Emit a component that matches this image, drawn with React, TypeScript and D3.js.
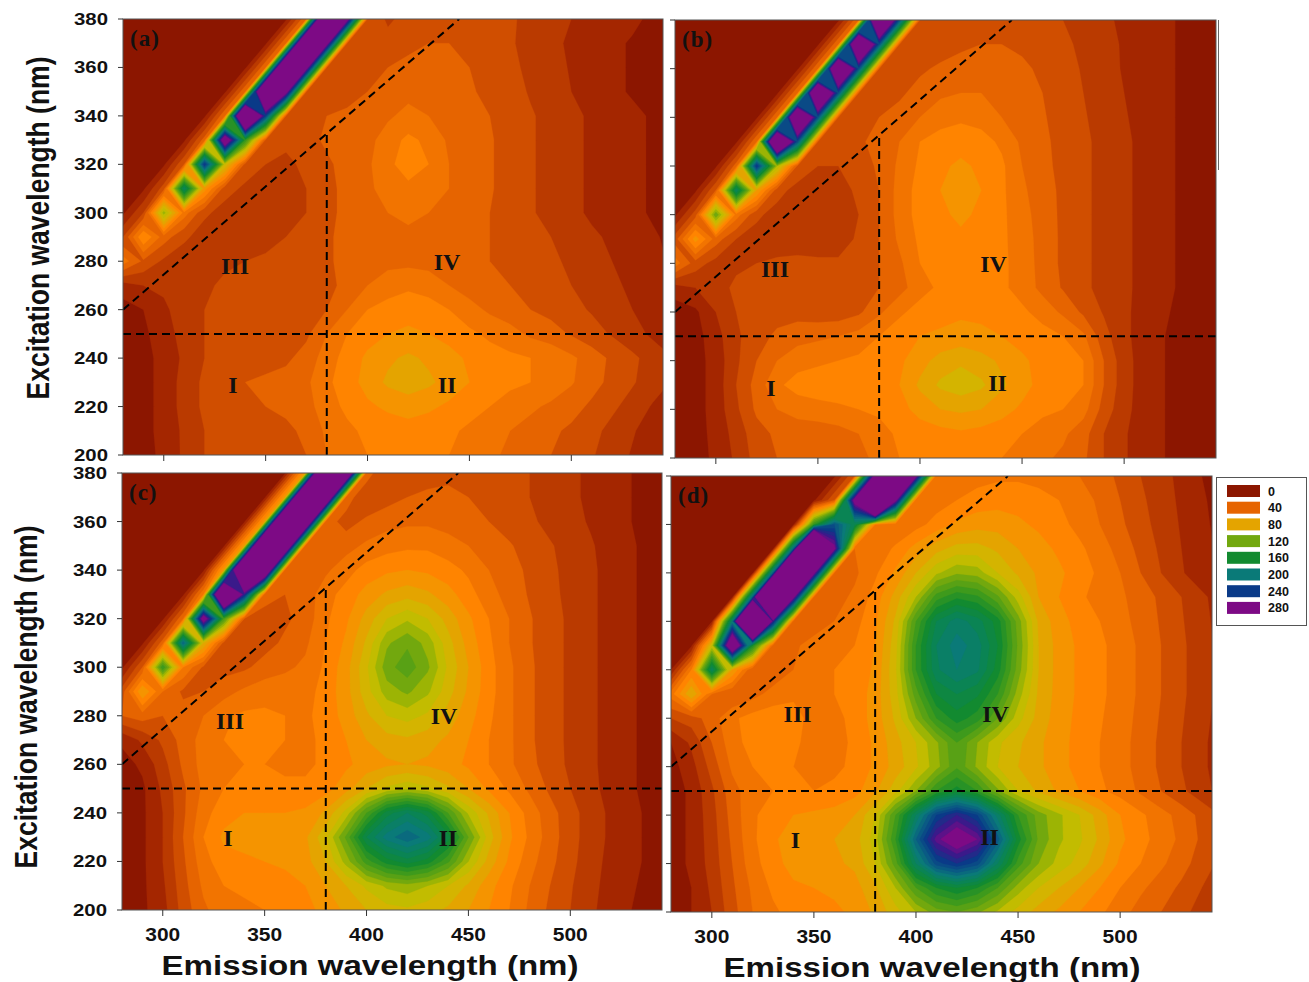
import { useMemo } from 'react';
import * as d3 from 'd3';

// grid axes of the excitation-emission matrices (nm)
const emission = [280, 290, 300, 310, 320, 330, 340, 350, 360, 370, 380, 390, 400, 410, 420, 430, 440, 450, 460, 470, 480, 490, 500, 510, 520, 530, 540, 550];
const excitation = [380, 370, 360, 350, 340, 330, 320, 310, 300, 290, 280, 270, 260, 250, 240, 230, 220, 210, 200];

// intensities, one string per excitation row (top row = 380 nm)
const panelA = [
  '5 5 5 5 5 5 5 5 8 50 450 300 40 28 34 36 36 35 33 31 28 24 20 17 15 12 8 5',
  '5 5 5 5 5 5 5 8 50 450 300 40 30 34 38 40 40 38 35 31 27 23 18 15 12 9 7 5',
  '5 5 5 5 5 5 8 50 450 300 40 32 36 40 42 44 42 40 37 32 28 24 19 15 12 9 7 5',
  '5 5 5 5 5 8 50 450 300 40 32 36 40 44 46 46 44 41 38 34 29 25 20 16 12 9 7 5',
  '5 5 5 5 8 50 450 240 40 34 40 42 44 48 54 50 46 43 40 36 31 27 23 18 15 12 9 7',
  '5 5 5 8 45 330 150 38 32 36 42 44 46 56 62 58 48 44 41 36 31 27 23 18 15 12 9 7',
  '5 5 8 40 250 100 36 30 28 32 38 44 48 58 64 60 50 45 41 36 31 27 23 18 15 12 9 7',
  '5 8 35 190 75 34 28 26 25 30 36 44 48 54 58 55 50 45 41 36 31 27 23 18 15 12 9 7',
  '8 30 115 55 32 26 24 24 26 30 36 44 48 50 52 50 48 45 40 36 31 27 23 18 15 12 9 7',
  '30 70 45 32 25 24 24 26 30 32 38 44 47 48 48 48 46 44 40 37 33 30 26 22 18 14 11 8',
  '55 38 28 24 24 28 30 32 33 33 38 44 46 47 47 46 44 42 40 37 35 32 28 24 20 16 12 9',
  '15 20 22 24 28 32 34 34 32 30 36 44 50 55 58 56 50 45 44 40 37 34 30 26 22 18 13 10',
  '6 10 18 25 30 34 35 34 32 32 40 50 60 64 66 64 60 54 48 44 40 37 33 29 25 20 15 11',
  '5 8 15 24 30 34 34 34 34 38 50 60 66 70 72 70 66 62 58 54 48 44 39 34 29 24 18 13',
  '5 7 13 22 30 34 36 36 38 44 55 64 72 78 82 78 74 68 64 62 60 58 52 45 38 32 26 20',
  '5 7 13 24 32 38 40 42 44 48 58 65 74 82 86 82 76 70 64 62 60 57 51 44 37 31 25 19',
  '5 7 13 24 32 36 38 40 42 46 56 62 68 72 74 72 68 64 60 56 52 48 44 38 32 26 19 14',
  '5 7 13 22 30 34 36 36 38 42 52 58 62 64 66 64 62 58 54 50 46 42 38 33 27 21 15 10',
  '5 7 12 22 30 33 35 35 36 40 50 56 60 62 64 62 60 56 52 48 44 40 36 31 25 19 14 10',
];

const panelB = [
  '5 5 5 5 5 5 5 5 8 50 420 230 40 30 34 36 36 35 33 30 26 22 18 15 12 8 6 5',
  '5 5 5 5 5 5 5 8 50 420 230 40 30 34 38 40 40 38 35 32 28 23 19 15 12 8 6 5',
  '5 5 5 5 5 5 8 50 420 230 40 32 38 42 44 46 44 42 38 34 29 24 19 15 12 8 6 5',
  '5 5 5 5 5 8 50 420 230 40 34 38 44 48 50 50 48 44 40 35 30 25 20 15 12 8 6 5',
  '5 5 5 5 8 50 420 230 40 34 40 44 50 56 58 56 50 46 41 36 31 26 21 16 12 8 6 5',
  '5 5 5 8 50 420 230 40 34 38 44 50 60 64 66 64 58 48 42 37 32 27 22 17 12 8 6 5',
  '5 5 8 45 250 110 38 30 30 34 42 52 62 68 72 68 62 50 43 37 32 27 22 17 12 8 6 5',
  '5 8 40 190 80 34 26 24 26 32 40 54 64 70 74 70 62 52 44 38 32 27 22 17 12 8 6 5',
  '8 35 130 55 32 26 25 24 24 30 40 54 64 68 72 68 62 54 45 38 32 27 22 17 12 8 6 5',
  '35 75 45 30 26 24 26 24 24 32 40 52 62 66 68 66 62 55 46 38 32 27 22 17 12 8 6 5',
  '55 35 26 28 30 32 32 32 32 34 40 48 60 64 66 64 62 56 46 38 32 27 22 17 12 8 6 5',
  '15 20 26 32 34 34 34 32 32 34 40 46 56 62 64 64 62 56 47 39 32 27 22 17 12 8 6 5',
  '5 8 20 30 34 36 36 34 34 38 48 58 64 66 68 68 66 62 56 48 38 29 22 16 11 7 5 5',
  '5 6 16 28 36 42 46 48 50 54 60 66 70 72 74 72 70 66 64 60 52 34 22 16 10 7 5 5',
  '5 6 14 28 40 50 56 58 60 62 64 68 76 84 88 84 78 72 66 62 60 40 24 15 10 7 5 5',
  '5 6 14 30 44 58 64 66 66 66 64 70 82 92 96 92 82 74 66 62 60 40 24 15 10 7 5 5',
  '5 6 14 28 42 50 54 56 58 60 62 66 74 80 82 80 74 68 62 60 54 36 23 15 10 7 5 5',
  '5 6 13 24 36 42 44 44 46 50 56 62 64 66 68 66 64 60 56 52 44 30 21 15 10 7 5 5',
  '5 6 12 22 34 40 40 40 42 46 54 60 62 64 64 62 60 56 52 48 42 30 21 15 10 7 5 5',
];

const panelC = [
  '5 5 5 5 5 5 5 5 8 80 500 380 45 30 34 36 38 38 36 34 30 26 22 18 14 10 7 5',
  '5 5 5 5 5 5 5 8 80 500 380 45 32 36 40 42 42 40 38 34 30 26 22 18 14 10 7 5',
  '5 5 5 5 5 5 8 80 500 380 45 36 42 46 48 48 46 44 40 36 32 27 23 19 15 10 7 5',
  '5 5 5 5 5 8 80 500 380 45 40 46 52 56 58 58 54 50 46 41 36 31 26 21 16 11 7 5',
  '5 5 5 5 8 80 500 380 45 40 48 56 64 68 70 68 64 58 50 44 38 32 27 22 16 11 7 5',
  '5 5 5 8 60 450 260 44 40 44 56 64 74 82 86 82 74 64 54 46 39 33 27 22 16 11 7 5',
  '5 5 8 50 310 140 40 36 38 44 58 68 84 100 108 100 86 72 60 50 41 34 28 22 16 11 7 5',
  '5 8 45 220 90 36 34 36 42 48 60 72 92 118 128 116 94 76 62 50 41 34 28 22 16 11 7 5',
  '8 40 150 60 38 36 38 44 48 52 62 76 98 126 136 122 98 80 64 52 42 34 28 22 16 11 7 5',
  '35 80 50 38 40 46 52 56 56 56 64 76 96 115 122 112 94 78 64 52 42 34 28 22 16 11 7 5',
  '40 45 40 44 50 58 62 62 60 58 64 74 88 100 104 98 86 74 62 52 42 34 28 22 16 11 7 5',
  '12 22 32 44 54 60 62 62 60 58 62 70 80 86 88 84 78 70 60 52 42 34 28 22 16 11 7 5',
  '6 12 26 42 54 58 60 60 58 58 62 68 74 78 80 78 74 68 60 52 43 35 28 22 16 11 7 5',
  '5 8 22 38 52 60 62 62 62 62 66 76 90 102 108 102 92 80 68 58 48 38 30 23 16 11 7 5',
  '5 8 20 38 56 66 70 70 70 72 82 104 140 175 190 175 140 108 88 70 56 44 34 25 18 12 8 5',
  '5 8 20 40 60 72 74 74 74 78 98 132 180 205 218 205 175 130 95 72 58 45 34 25 18 12 8 5',
  '5 8 20 38 56 66 68 70 72 76 90 114 145 165 175 165 142 110 86 68 54 43 33 24 17 12 8 5',
  '5 8 18 36 52 60 62 64 66 70 80 90 102 112 116 110 100 88 74 62 50 40 31 23 16 11 7 5',
  '5 8 16 34 48 56 58 60 62 66 74 82 90 96 98 94 88 80 70 60 48 38 30 22 15 10 7 5',
];

const panelD = [
  '5 5 5 5 5 5 5 5 8 40 300 700 290 50 52 56 58 58 56 54 50 44 38 30 24 17 10 6',
  '5 5 5 5 5 5 5 8 40 300 700 290 50 55 60 64 66 66 64 60 55 48 40 32 25 18 11 7',
  '5 5 5 5 5 5 8 150 230 180 60 50 56 64 72 76 76 72 68 63 57 50 42 34 26 19 12 7',
  '5 5 5 5 5 8 220 700 290 50 52 62 74 86 94 94 88 80 74 68 62 55 46 37 28 20 13 8',
  '5 5 5 5 8 220 700 290 50 48 58 72 90 108 118 115 100 88 78 72 65 58 50 40 30 21 14 9',
  '5 5 5 8 220 700 290 48 46 52 64 84 110 145 158 152 132 105 80 70 62 56 52 45 38 30 22 15',
  '5 5 8 200 650 260 45 44 50 56 68 92 140 180 195 185 165 125 88 74 66 60 54 46 39 31 23 16',
  '5 8 100 350 160 45 48 54 58 60 70 96 150 190 205 195 170 128 90 76 68 62 56 48 40 32 24 17',
  '10 60 190 80 40 42 50 56 60 62 72 98 150 188 200 192 165 125 90 76 68 62 56 48 40 32 24 17',
  '55 90 50 40 46 54 58 58 60 64 74 96 135 170 180 172 150 115 88 76 68 62 56 48 40 32 24 17',
  '30 35 45 58 64 66 64 56 56 64 74 92 120 150 165 155 130 104 86 75 67 61 55 47 39 31 23 16',
  '10 22 40 56 64 66 62 56 56 62 72 86 100 118 140 120 102 92 82 74 66 60 54 46 38 30 22 15',
  '6 16 34 52 60 62 60 58 58 62 72 84 98 116 138 118 100 90 82 74 66 60 54 46 38 30 22 15',
  '5 12 28 46 56 60 60 60 62 66 78 96 120 150 165 150 122 100 88 78 70 62 56 48 40 32 24 16',
  '5 12 26 44 58 66 70 72 74 80 100 140 190 240 260 240 195 150 125 112 100 85 70 62 54 46 37 29',
  '5 12 25 42 58 68 76 78 80 85 105 150 220 275 300 280 225 165 128 112 102 88 72 64 55 48 38 30',
  '5 12 24 40 56 66 74 76 78 82 100 135 190 235 250 235 190 145 120 106 96 82 68 60 52 44 35 27',
  '5 10 22 38 52 62 68 70 72 76 88 110 140 160 170 160 140 115 100 90 80 70 60 52 45 38 30 22',
  '5 10 20 36 50 58 64 66 68 72 82 96 110 125 130 122 108 96 86 78 70 62 54 46 40 33 26 19',
];

const legendLevels = [0, 40, 80, 120, 160, 200, 240, 280];
const xTicks = [300, 350, 400, 450, 500];
const yTicks = [200, 220, 240, 260, 280, 300, 320, 340, 360, 380];
const regionNames = ['I', 'II', 'III', 'IV'];

// dashed region borders, [emission, excitation]
const dashedLines = [
  [[280, 250], [545, 250]],
  [[380, 200], [380, 333]],
  [[280, 260], [445, 380]],
];

const colorStops = [0, 10, 20, 30, 40, 50, 60, 70, 80, 90, 100, 110, 120, 140, 160, 180, 200, 220, 240, 260, 280];
const colorHex = ['#8c1600', '#a42600', '#ba3a00', '#d04e00', '#e66400', '#f27400', '#ff8400', '#f59400', '#e4a400', '#d4b400', '#c2bc00', '#9cb404', '#72a80e', '#3e9a1c', '#128a30', '#0a8454', '#0a7a78', '#0a5a84', '#0a3a88', '#3a1a8a', '#7d0a85'];
const fill = d3.scaleLinear<string>().domain(colorStops).range(colorHex).clamp(true);
const thresholds = d3.range(0, 290, 10);

const SANS = "'Liberation Sans', Arial, sans-serif";
const SERIF = "'Liberation Serif', 'Times New Roman', serif";

const panels = [
  { id: 'a', tag: '(a)', rows: panelA, x0: 123, x1: 663, y0: 19, y1: 455, yLab: true, xLab: false,
    spots: [[334, 229], [439, 229], [335, 278], [439, 280]] },
  { id: 'b', tag: '(b)', rows: panelB, x0: 675, x1: 1216, y0: 20, y1: 458, yLab: false, xLab: false,
    spots: [[327, 229], [438, 231], [329, 278], [436, 280]] },
  { id: 'c', tag: '(c)', rows: panelC, x0: 122, x1: 662, y0: 473, y1: 910, yLab: true, xLab: true,
    spots: [[332, 230], [440, 230], [333, 278], [438, 280]] },
  { id: 'd', tag: '(d)', rows: panelD, x0: 671, x1: 1212, y0: 476, y1: 912, yLab: false, xLab: true,
    spots: [[341, 230], [436, 231], [342, 282], [439, 282]] },
];

function EemPanel({ p }: { p: any }) {
  const x = d3.scaleLinear().domain([280, 545]).range([p.x0, p.x1]);
  const y = d3.scaleLinear().domain([200, 380]).range([p.y1, p.y0]);

  const bands = useMemo(() => {
    const values = p.rows.flatMap((r: string) => r.trim().split(/\s+/).map(Number));
    const emStep = emission[1] - emission[0];
    const exStep = excitation[0] - excitation[1];
    const proj = d3.geoTransform({
      point(px: number, py: number) {
        this.stream.point(x(emission[0] + (px - 0.5) * emStep), y(excitation[0] - (py - 0.5) * exStep));
      },
    });
    const path = d3.geoPath(proj);
    return d3.contours().size([emission.length, excitation.length]).thresholds(thresholds)(values)
      .map(c => ({ d: path(c as any), color: fill(c.value) }));
  }, [p]);

  const line = d3.line<number[]>().x(d => x(d[0])).y(d => y(d[1]));

  return (
    <g>
      <clipPath id={`clip-${p.id}`}>
        <rect x={p.x0} y={p.y0} width={p.x1 - p.x0} height={p.y1 - p.y0} />
      </clipPath>
      <g clipPath={`url(#clip-${p.id})`}>
        {bands.map((b, i) => <path key={i} d={b.d || ''} fill={b.color} stroke={b.color} strokeWidth={0.3} />)}
        {dashedLines.map((l, i) => (
          <path key={i} d={line(l) || ''} fill="none" stroke="#000" strokeWidth={2} strokeDasharray="8,5" />
        ))}
      </g>
      <rect x={p.x0} y={p.y0} width={p.x1 - p.x0} height={p.y1 - p.y0} fill="none" stroke="#555" strokeWidth={1} />
      {yTicks.map(t => (
        <g key={t}>
          <line x1={p.x0 - 5} x2={p.x0} y1={y(t)} y2={y(t)} stroke="#333" strokeWidth={1} />
          {p.yLab && (
            <text x={p.x0 - 15} y={y(t) + 6} textAnchor="end" fontFamily={SANS} fontWeight="bold" fontSize={17}
              textLength={34} lengthAdjust="spacingAndGlyphs" fill="#111">{t}</text>
          )}
        </g>
      ))}
      {xTicks.map(t => (
        <g key={t}>
          <line x1={x(t)} x2={x(t)} y1={p.y1} y2={p.y1 + 6} stroke="#333" strokeWidth={1} />
          {p.xLab && (
            <text x={x(t)} y={p.y1 + 31} textAnchor="middle" fontFamily={SANS} fontWeight="bold" fontSize={18}
              textLength={35} lengthAdjust="spacingAndGlyphs" fill="#111">{t}</text>
          )}
        </g>
      ))}
      <text x={p.x0 + 7} y={p.y0 + 27} fontFamily={SERIF} fontWeight="bold" fontSize={23}
        letterSpacing={1} fill="#111">{p.tag}</text>
      {regionNames.map((n, i) => (
        <text key={n} x={x(p.spots[i][0])} y={y(p.spots[i][1])} dy="0.35em" textAnchor="middle"
          fontFamily={SERIF} fontWeight="bold" fontSize={24} fill="#111">{n}</text>
      ))}
    </g>
  );
}

export default function App() {
  return (
    <svg width={1309} height={982} style={{ position: 'absolute', left: 0, top: 0, background: '#fff' }}>
      {panels.map(p => <EemPanel key={p.id} p={p} />)}

      {/* axis titles */}
      <text transform="translate(38,228) rotate(-90) scale(1,1.15)" textAnchor="middle" dy="0.35em"
        fontFamily={SANS} fontWeight="bold" fontSize={26.5} fill="#111">Excitation wavelength (nm)</text>
      <text transform="translate(26,697) rotate(-90) scale(1,1.15)" textAnchor="middle" dy="0.35em"
        fontFamily={SANS} fontWeight="bold" fontSize={26.5} fill="#111">Excitation wavelength (nm)</text>
      <text x={370} y={975} textAnchor="middle" fontFamily={SANS} fontWeight="bold" fontSize={28}
        textLength={417} lengthAdjust="spacingAndGlyphs" fill="#111">Emission wavelength (nm)</text>
      <text x={932} y={977} textAnchor="middle" fontFamily={SANS} fontWeight="bold" fontSize={28}
        textLength={417} lengthAdjust="spacingAndGlyphs" fill="#111">Emission wavelength (nm)</text>

      <line x1={1218.5} x2={1218.5} y1={20} y2={170} stroke="#666" strokeWidth={1} />

      {/* legend */}
      <rect x={1216.5} y={477.5} width={90} height={148} fill="#fff" stroke="#555" strokeWidth={1} />
      {legendLevels.map((v, i) => (
        <g key={v}>
          <rect x={1227} y={485 + i * 16.7} width={33} height={12} fill={fill(v)} />
          <text x={1268} y={485 + i * 16.7 + 10.5} fontFamily={SANS} fontWeight="bold" fontSize={12.5} fill="#111">{v}</text>
        </g>
      ))}
    </svg>
  );
}
